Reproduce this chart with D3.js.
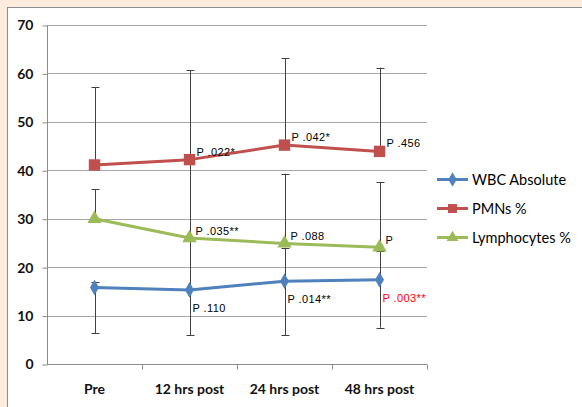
<!DOCTYPE html>
<html>
<head>
<meta charset="utf-8">
<script src="https://cdn.jsdelivr.net/npm/d3@7"></script>
<style>
  body { margin: 0; background: #fdecdd; }
  svg { display: block; }
</style>
</head>
<body>
<div class="chart"></div>
<script>
var width = 582, height = 407;

// data
var categories = ["Pre", "12 hrs post", "24 hrs post", "48 hrs post"];
var yTicks = [0, 10, 20, 30, 40, 50, 60, 70];

var wbc = [15.8, 15.3, 17.1, 17.4];
var wbcLow = [6.4, 5.9, 5.9, 7.5];
var wbcHigh = [16.9, 25.3, 24.0, 23.4];

var pmn = [41.1, 42.2, 45.2, 43.9];
var pmnHigh = [57.1, 60.7, 63.1, 61.2];

var lymph = [30.0, 26.0, 24.9, 24.1];
var lymphHigh = [36.1, 42.0, 39.3, 37.5];

var wbcP = ["", "P .110", "P .014**", "P .003**"];
var pmnP = ["", "P .022*", "P .042*", "P .456"];
var lymphP = ["", "P .035**", "P .088", "P"];

var series = [
    { name: "WBC Absolute", values: wbc, low: wbcLow, high: wbcHigh, color: "#4f81bd", marker: "diamond", p: wbcP, dx: 3, dy: 22 },
    { name: "PMNs %", values: pmn, low: pmn, high: pmnHigh, color: "#c0504d", marker: "square", p: pmnP, dx: 7, dy: -4 },
    { name: "Lymphocytes %", values: lymph, low: lymph, high: lymphHigh, color: "#9bbb59", marker: "triangle", p: lymphP, dx: 6, dy: -3 }
];

var svg = d3.select(".chart").append("svg")
    .attr("width", width)
    .attr("height", height);

// white chart area with grey frame
svg.append("rect")
    .attr("x", 7.5).attr("y", 7.5)
    .attr("width", 600).attr("height", 420)
    .attr("fill", "#fff")
    .attr("stroke", "#8c8c8c");

var x = d3.scaleBand().domain(categories).range([47, 427]);
var y = d3.scaleLinear().domain([0, 70]).range([364, 25]);

// gridlines
svg.append("g")
    .selectAll("line")
    .data(yTicks.slice(1))
    .enter().append("line")
    .attr("x1", 47).attr("x2", 427)
    .attr("y1", function (d) { return Math.round(y(d)) + 0.5; })
    .attr("y2", function (d) { return Math.round(y(d)) + 0.5; })
    .attr("stroke", "#a6a6a6");

// y axis
var yAxis = svg.append("g")
    .attr("transform", "translate(47.5,0.5)")
    .call(d3.axisLeft(y).tickValues(yTicks).tickSize(5).tickPadding(9).tickFormat(d3.format("d")));
yAxis.select(".domain").attr("stroke", "#8c8c8c").attr("d", "M0," + y(0) + "V" + y(70));
yAxis.selectAll(".tick line").attr("stroke", "#8c8c8c");
yAxis.selectAll("text")
    .style("font-family", "Lato, sans-serif")
    .style("font-size", "14px")
    .style("font-weight", "bold")
    .attr("fill", "#111");

// x axis
var xAxis = svg.append("g")
    .attr("transform", "translate(0," + (Math.round(y(0)) + 0.5) + ")")
    .call(d3.axisBottom(x).tickSize(0).tickPadding(20));
xAxis.select(".domain").attr("stroke", "#8c8c8c").attr("d", "M47,0H427");
xAxis.selectAll("text")
    .style("font-family", "Lato, sans-serif")
    .style("font-size", "14px")
    .style("font-weight", "bold")
    .attr("fill", "#111");
xAxis.append("g")
    .selectAll("line")
    .data(categories)
    .enter().append("line")
    .attr("x1", function (d) { return Math.round(x(d) + x.bandwidth()) + 0.5; })
    .attr("x2", function (d) { return Math.round(x(d) + x.bandwidth()) + 0.5; })
    .attr("y1", 0).attr("y2", 5)
    .attr("stroke", "#8c8c8c");

function cx(i) { return x(categories[i]) + x.bandwidth() / 2; }

// error bars
var err = svg.append("g").attr("stroke", "#404040").attr("stroke-width", 1);
series.forEach(function (s) {
    categories.forEach(function (c, i) {
        var xx = Math.round(cx(i)) + 0.5;
        err.append("line")
            .attr("x1", xx).attr("x2", xx)
            .attr("y1", y(s.low[i])).attr("y2", y(s.high[i]));
        [s.low[i], s.high[i]].forEach(function (v) {
            if (v === s.values[i]) return;
            err.append("line")
                .attr("x1", xx - 4).attr("x2", xx + 4)
                .attr("y1", Math.round(y(v)) + 0.5).attr("y2", Math.round(y(v)) + 0.5);
        });
    });
});

var line = d3.line()
    .x(function (d, i) { return cx(i); })
    .y(function (d) { return y(d); });

var symbols = {
    diamond: d3.symbol().type(d3.symbolDiamond).size(70),
    square: d3.symbol().type(d3.symbolSquare).size(130),
    triangle: d3.symbol().type(d3.symbolTriangle).size(90)
};

series.forEach(function (s) {
    svg.append("path")
        .datum(s.values)
        .attr("d", line)
        .attr("fill", "none")
        .attr("stroke", s.color)
        .attr("stroke-width", 3)
        .attr("stroke-linejoin", "round");

    svg.append("g")
        .selectAll("path")
        .data(s.values)
        .enter().append("path")
        .attr("transform", function (d, i) { return "translate(" + cx(i) + "," + y(d) + ")"; })
        .attr("d", symbols[s.marker])
        .attr("fill", s.color);
});

// p-value labels
series.forEach(function (s) {
    svg.append("g")
        .selectAll("text")
        .data(s.p)
        .enter().append("text")
        .attr("x", function (d, i) { return cx(i) + s.dx; })
        .attr("y", function (d, i) { return y(s.values[i]) + s.dy; })
        .attr("fill", function (d) { return d === "P .003**" ? "#ff0000" : "#000"; })
        .style("font-family", "'Liberation Sans', Arial, sans-serif")
        .style("font-size", "11px")
        .style("letter-spacing", "0.4px")
        .text(function (d) { return d; });
});

// legend
var legend = svg.append("g")
    .selectAll("g")
    .data(series)
    .enter().append("g")
    .attr("transform", function (d, i) { return "translate(437," + (179.5 + i * 29) + ")"; });

legend.append("line")
    .attr("x1", 0).attr("x2", 31)
    .attr("stroke", function (d) { return d.color; })
    .attr("stroke-width", 3);

legend.append("path")
    .attr("transform", "translate(15.5,0)")
    .attr("d", function (d) { return d3.symbol().type(d.marker === "diamond" ? d3.symbolDiamond : d.marker === "square" ? d3.symbolSquare : d3.symbolTriangle).size(d.marker === "square" ? 80 : 60)(); })
    .attr("fill", function (d) { return d.color; });

legend.append("text")
    .attr("x", 35)
    .attr("dy", "0.35em")
    .style("font-family", "Lato, sans-serif")
    .style("font-size", "14.5px")
    .attr("fill", "#000")
    .text(function (d) { return d.name; });
</script>
</body>
</html>
